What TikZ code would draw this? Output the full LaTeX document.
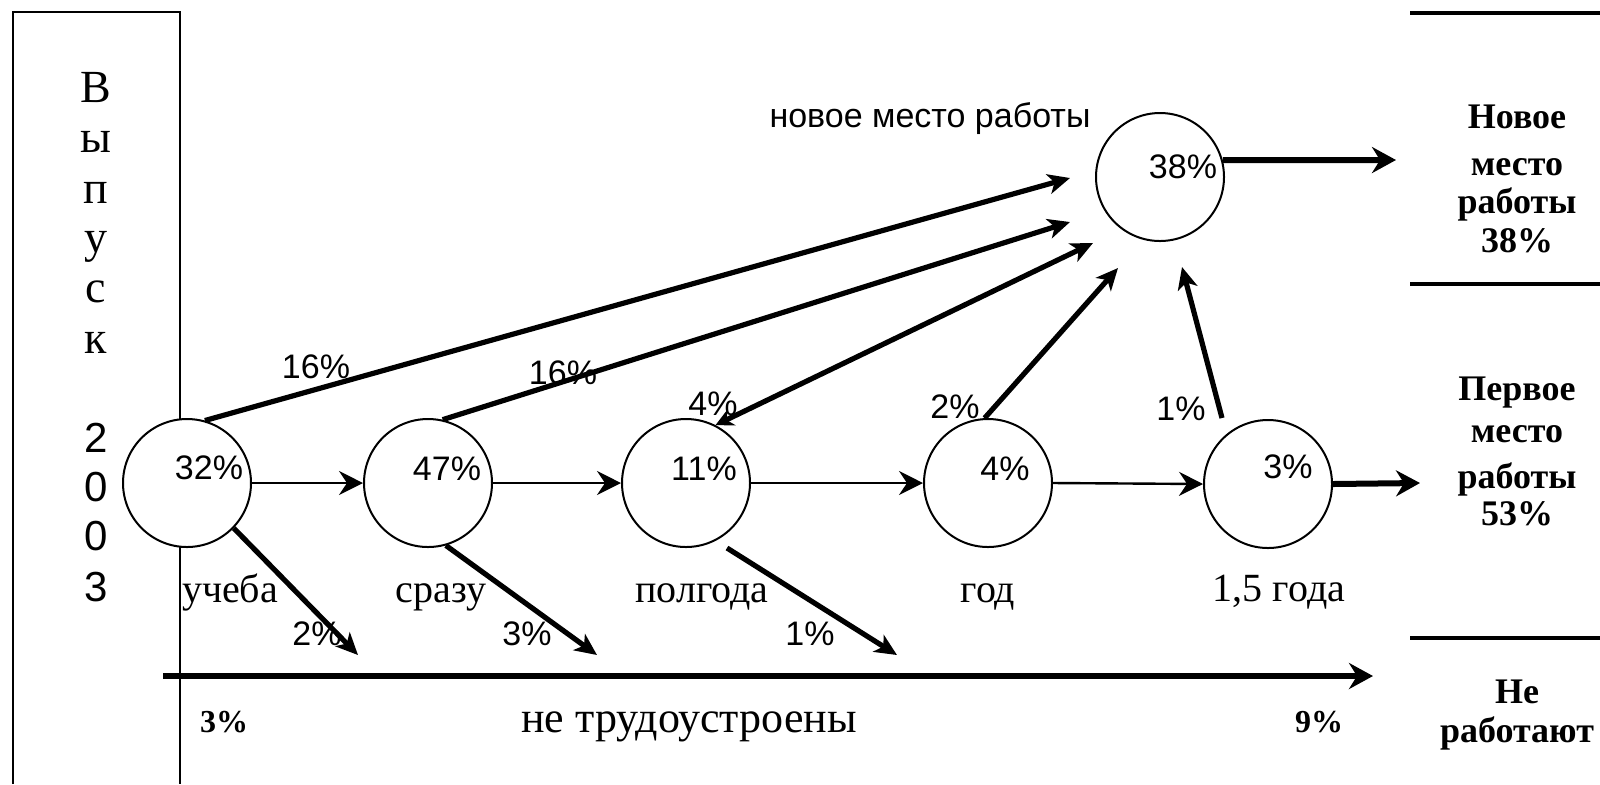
\documentclass[tikz,border=0pt]{standalone}
\usepackage{fontspec}
\setmainfont{Liberation Serif}
\newfontfamily\lsans{Liberation Sans}
\usetikzlibrary{arrows.meta}
\begin{document}
\begin{tikzpicture}[x=0.5pt,y=-0.5pt,
  circ/.style={circle,draw,line width=1pt,fill=white,minimum size=64pt,inner sep=0pt},
  pct/.style={anchor=base,inner sep=0pt,font=\lsans\fontsize{17}{17}\selectfont},
  lab/.style={anchor=base,inner sep=0pt,font=\fontsize{20}{20}\selectfont},
  side/.style={anchor=base,inner sep=0pt,font=\bfseries\fontsize{18}{18}\selectfont},
  boldpct/.style={anchor=base,inner sep=0pt,font=\bfseries\fontsize{16}{16}\selectfont},
  vchar/.style={anchor=base,inner sep=0pt,font=\fontsize{23}{23}\selectfont},
  vdig/.style={anchor=base,inner sep=0pt,font=\lsans\fontsize{21}{21}\selectfont},
  boxln/.style={line width=1.3pt},
  sepln/.style={line width=1.6pt},
  harrow/.style={line width=1.2pt,-{Stealth[length=12pt,width=12pt,inset=4pt]}},
  outarrow/.style={line width=3pt,-{Stealth[length=12pt,width=13pt,inset=4pt]}},
  diag/.style={line width=2.6pt,-{Stealth[length=11pt,width=10pt,inset=3pt]}},
  diagtwo/.style={line width=2.6pt,{Stealth[length=9pt,width=9pt,inset=3pt]}-{Stealth[length=11pt,width=10pt,inset=3pt]}},
  axisarrow/.style={line width=3.4pt,-{Stealth[length=12pt,width=13pt,inset=4pt]}}
]
\useasboundingbox (0,0) rectangle (1600,784);
\fill[white] (0,0) rectangle (1600,784);

% frame lines
\draw[boxln] (13,784) -- (13,12) -- (180,12) -- (180,784);
\draw[sepln] (1410,13) -- (1600,13);
\draw[sepln] (1410,284) -- (1600,284);
\draw[sepln] (1410,638) -- (1600,638);

% left vertical text
\node[vchar] (v1) at (96,102) {В};
\node[vchar] (v2) at (96,152) {ы};
\node[vchar] (v3) at (96,203) {п};
\node[vchar] (v4) at (96,252) {у};
\node[vchar] (v5) at (96,302) {с};
\node[vchar] (v6) at (96,353) {к};
\node[vdig] (v7) at (96,452) {2};
\node[vdig] (v8) at (96,501) {0};
\node[vdig] (v9) at (96,550) {0};
\node[vdig] (v10) at (96,601) {3};

% circles
\node[circ] (c1) at (187,483) {};
\node[circ] (c2) at (428,483) {};
\node[circ] (c3) at (686,483) {};
\node[circ] (c4) at (988,483) {};
\node[circ] (c5) at (1268,484) {};
\node[circ] (c6) at (1160,177) {};

% circle labels
\node[pct] (t1) at (209,479) {32\%};
\node[pct] (t2) at (447,480) {47\%};
\node[pct] (t3) at (704,480) {11\%};
\node[pct] (t4) at (1005,480) {4\%};
\node[pct] (t5) at (1288,478) {3\%};
\node[pct] (t6) at (1183,178) {38\%};

% free ends
\coordinate (e1) at (1070,178);
\coordinate (e2) at (1070,222);
\coordinate (e3) at (1093,243);
\coordinate (e4) at (1118,268);
\coordinate (e5) at (1182,267);
\coordinate (s5) at (1222,418);
\coordinate (s3) at (727,548);
\coordinate (d1) at (358,655);
\coordinate (d2) at (597,655);
\coordinate (d3) at (897,655);
\coordinate (o5) at (1420,483);
\coordinate (o6) at (1396,160);
\coordinate (ax0) at (163,676);
\coordinate (ax1) at (1373,676);

% horizontal arrows
\draw[harrow] (c1.east) -- (c2.west);
\draw[harrow] (c2.east) -- (c3.west);
\draw[harrow] (c3.east) -- (c4.west);
\draw[harrow] (c4.east) -- (c5.west);
\draw[outarrow] (c5.east) -- (o5);
\draw[outarrow] (c6.15) -- (o6);

% diagonal arrows to new job
\draw[diag] (c1.74) -- (e1);
\draw[diag] (c2.77) -- (e2);
\draw[diagtwo] (c3.63) -- (e3);
\draw[diag] (c4.93) -- (e4);
\draw[diag] (s5) -- (e5);

% down arrows
\draw[diag] (c1.-44) -- (d1);
\draw[diag] (c2.-74) -- (d2);
\draw[diag] (s3) -- (d3);

% axis
\draw[axisarrow] (ax0) -- (ax1);

% arrow labels
\node[pct] (l1) at (316,378) {16\%};
\node[pct] (l2) at (563,384) {16\%};
\node[pct] (l3) at (713,415) {4\%};
\node[pct] (l4) at (955,418) {2\%};
\node[pct] (l5) at (1181,420) {1\%};
\node[pct] (l6) at (317,645) {2\%};
\node[pct] (l7) at (527,645) {3\%};
\node[pct] (l8) at (810,645) {1\%};

% under labels
\node[lab] (u1) at (230,602) {учеба};
\node[lab] (u2) at (441,602) {сразу};
\node[lab] (u3) at (702,602) {полгода};
\node[lab] (u4) at (988,602) {год};
\node[lab] (u5) at (1279,601) {1,5 года};

\node[anchor=base,inner sep=0pt,font=\lsans\fontsize{17}{17}\selectfont] (nm) at (930,127) {новое место работы};
\node[anchor=base,inner sep=0pt,font=\fontsize{22}{22}\selectfont] (nt) at (689,732) {не трудоустроены};
\node[boldpct] (b3) at (224,732) {3\%};
\node[boldpct] (b9) at (1319,732) {9\%};

% right column
\node[side] (r1) at (1517,128) {Новое};
\node[side] (r2) at (1517,175) {место};
\node[side] (r3) at (1517,213) {работы};
\node[side] (r4) at (1517,252) {38\%};
\node[side] (r5) at (1517,400) {Первое};
\node[side] (r6) at (1517,442) {место};
\node[side] (r7) at (1517,488) {работы};
\node[side] (r8) at (1517,525) {53\%};
\node[side] (r9) at (1517,703) {Не};
\node[side] (r10) at (1517,742) {работают};
\end{tikzpicture}
\end{document}
